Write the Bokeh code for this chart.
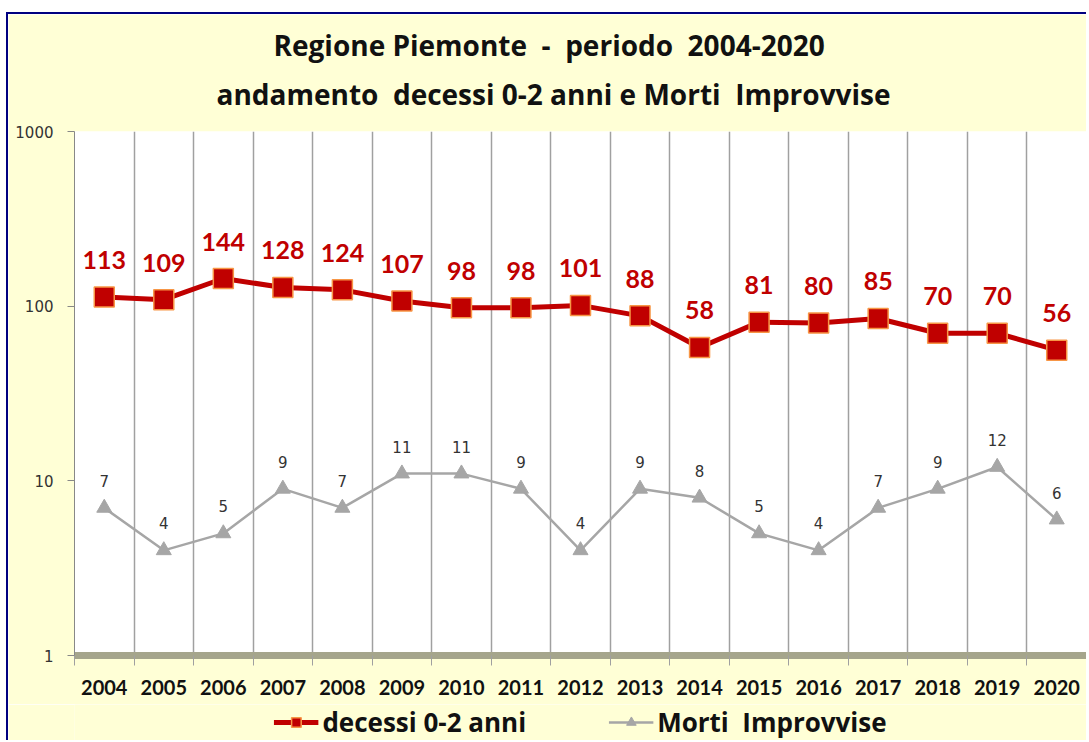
from bokeh.plotting import figure
from bokeh.layouts import column
from bokeh.models import (Range1d, FixedTicker, Title, Legend, LegendItem,
                          ColumnDataSource)
from bokeh.core.properties import value
from bokeh.embed import file_html
from bokeh.resources import INLINE

# ---- data -------------------------------------------------------------
years = [str(y) for y in range(2004, 2021)]
decessi = [113, 109, 144, 128, 124, 107, 98, 98, 101, 88, 58, 81, 80, 85, 70, 70, 56]
morti = [7, 4, 5, 9, 7, 11, 11, 9, 4, 9, 8, 5, 4, 7, 9, 12, 6]
y_ticks = [1, 10, 100, 1000]
series_names = ["decessi 0-2 anni", "Morti\u00a0\u00a0Improvvise"]
title_lines = ["Regione Piemonte \u00a0- \u00a0periodo \u00a02004-2020",
               "andamento \u00a0decessi 0-2 anni e Morti \u00a0Improvvise"]

RED = "#C00000"
GRAY = "#A6A6A6"
BG = "#FFFFD6"
W = 1078

xs = list(range(len(years)))
src = ColumnDataSource(dict(
    x=xs, dec=decessi, mor=morti,
    dec_lbl=[str(v) for v in decessi],
    mor_lbl=[str(v) for v in morti],
))

p = figure(width=W, height=690, y_axis_type="log",
           x_range=Range1d(-0.5, len(years) - 0.5),
           y_range=Range1d(y_ticks[0], y_ticks[-1]),
           output_backend="svg", toolbar_location=None, title=None,
           min_border_left=66, min_border_right=0, min_border_top=117,
           min_border_bottom=49,
           background_fill_color="white", border_fill_color=BG)
p.outline_line_color = None

# titles (second line added first -> closest to plot)
p.add_layout(Title(text=title_lines[1], align="left", offset=142,
                   text_font="Open Sans", text_font_size="28px",
                   text_font_style="bold", text_color="#111111",
                   standoff=38), "above")
p.add_layout(Title(text=title_lines[0], align="left", offset=199,
                   text_font="Open Sans", text_font_size="28px",
                   text_font_style="bold", text_color="#111111",
                   standoff=-20), "above")

# grids
p.ygrid.grid_line_color = None
p.xgrid.ticker = FixedTicker(ticks=[i - 0.5 for i in range(len(years) + 1)])
p.xgrid.grid_line_color = "#A0A0A0"
p.xgrid.grid_line_width = 1.5

# x axis
p.xaxis.ticker = FixedTicker(ticks=xs, minor_ticks=[i - 0.5 for i in range(len(years) + 1)])
p.xaxis.major_label_overrides = {i: y for i, y in zip(xs, years)}
p.xaxis.major_tick_line_color = None
p.xaxis.major_tick_out = 0
p.xaxis.minor_tick_line_color = "#A0A0A0"
p.xaxis.minor_tick_out = 10
p.xaxis.minor_tick_in = 0
p.xaxis.axis_line_color = "#A5A58C"
p.xaxis.axis_line_width = 7
p.xaxis.major_label_standoff = 14
p.xaxis.major_label_text_font = "Lato"
p.xaxis.major_label_text_font_size = "20px"
p.xaxis.major_label_text_font_style = "bold"
p.xaxis.major_label_text_color = "#111111"

# y axis
p.yaxis.ticker = FixedTicker(ticks=y_ticks)
p.yaxis.major_label_overrides = {v: str(v) for v in y_ticks}
p.yaxis.minor_tick_line_color = None
p.yaxis.axis_line_color = "#888888"
p.yaxis.major_tick_line_color = "#888888"
p.yaxis.major_tick_out = 7
p.yaxis.major_tick_in = 0
p.yaxis.major_label_standoff = 14
p.yaxis.major_label_text_font = "DejaVu Sans"
p.yaxis.major_label_text_font_size = "15px"
p.yaxis.major_label_text_color = "#333333"

# series
def draw(fig):
    ml = fig.line("x", "mor", source=src, line_color=GRAY, line_width=2.5)
    mp = fig.scatter("x", "mor", source=src, marker="triangle", size=15,
                     fill_color=GRAY, line_color=GRAY)
    dl = fig.line("x", "dec", source=src, line_color=RED, line_width=5)
    dp = fig.scatter("x", "dec", source=src, marker="square", size=20,
                     fill_color=RED, line_color="#F79646", line_width=1.5)
    return ml, mp, dl, dp

draw(p)

p.text("x", "dec", text="dec_lbl", source=src, y_offset=-37,
       text_align="center", text_baseline="alphabetic",
       text_font=value("Lato"), text_font_size="25px",
       text_font_style="bold", text_color=RED)
p.text("x", "mor", text="mor_lbl", source=src, y_offset=-27,
       text_align="center", text_baseline="alphabetic",
       text_font=value("DejaVu Sans"), text_font_size="15px",
       text_color="#333333")

# legend strip (same series, legend only; data lies outside its view)
lf = figure(width=W, height=36, x_range=Range1d(1000, 1001),
            y_range=Range1d(1000, 1001), output_backend="svg",
            toolbar_location=None, title=None,
            x_axis_location=None, y_axis_location=None,
            min_border=0, background_fill_color=BG, border_fill_color=BG)
lf.outline_line_color = None
lf.grid.grid_line_color = None
ml, mp, dl, dp = draw(lf)

legend = Legend(items=[
    LegendItem(label=series_names[0], renderers=[dl, dp]),
    LegendItem(label=series_names[1], renderers=[ml, mp]),
], orientation="horizontal", location="center",
    border_line_color=None, background_fill_alpha=0,
    label_text_font="Open Sans", label_text_font_size="26px",
    label_text_font_style="bold", label_text_color="#111111",
    glyph_width=45, glyph_height=24, spacing=82, label_standoff=4,
    padding=0, margin=0)
lf.add_layout(legend)

page = column(p, lf, spacing=0)
page.styles = {"border-top": "2px solid #000080", "border-left": "2px solid #000080",
               "margin-top": "12px", "margin-left": "6px"}

open("out.html", "w").write(file_html(page, INLINE))
